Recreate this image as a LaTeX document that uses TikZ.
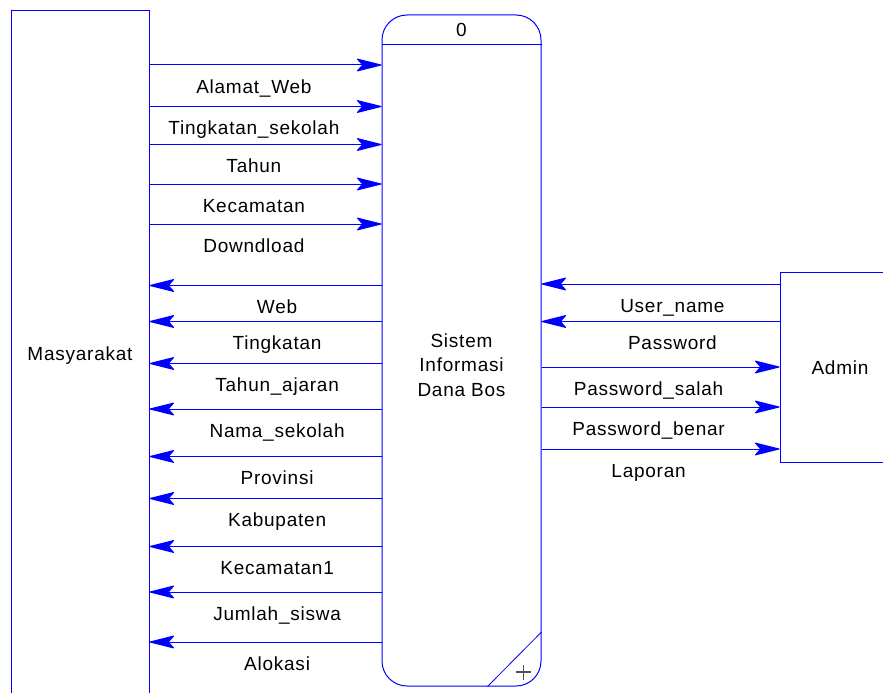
\documentclass[tikz,border=0pt]{standalone}
\usepackage{fontspec}
\setmainfont{Liberation Sans}[LetterSpace=4]
\usetikzlibrary{arrows.meta}

\definecolor{dfdblue}{RGB}{0,0,255}
\definecolor{plusgray}{RGB}{80,80,80}

\begin{document}
\begin{tikzpicture}[x=1pt,y=-1pt,
  ent/.style={draw=dfdblue,line width=1pt,rectangle,inner sep=0pt,font=\fontsize{19}{22}\selectfont},
  proc/.style={draw=dfdblue,line width=1pt,rectangle,rounded corners=25pt,inner sep=0pt},
  flow/.style={draw=dfdblue,line width=1pt,-{Stealth[length=27pt,width=13.5pt,inset=6pt,round]}},
  lbl/.style={anchor=base,pos=0.45,yshift=-28pt,inner sep=0pt,font=\fontsize{19}{22}\selectfont}]
\useasboundingbox (0,0) rectangle (883,693);
\clip (0,0) rectangle (883,693);

\node[ent,minimum width=138pt,minimum height=689pt] (masy) at (80,355.5) {Masyarakat};
\node[ent,minimum width=120pt,minimum height=190pt] (admin) at (840,367.5) {Admin};
\node[proc,minimum width=159pt,minimum height=671pt] (proc) at (461.5,350.5) {};
\node[font=\fontsize{19}{22}\selectfont] (pid) at (461.5,30) {0};
\node[align=center,font=\fontsize{19}{24.5}\selectfont] (pname) at (461.5,365) {Sistem\\Informasi\\Dana Bos};

\draw[dfdblue,line width=1pt] (proc.west |- 0,45) -- (proc.east |- 0,45);
\draw[dfdblue,line width=0.8pt] (proc.east |- 0,632) -- (487.5,0 |- proc.south);
\draw[plusgray,line width=1.3pt] (516,672) -- (531,672) (523.5,664.5) -- (523.5,679.5);

\foreach \y/\t [count=\i] in {65/Alamat\_Web,106.5/Tingkatan\_sekolah,144.5/Tahun,184/Kecamatan,224/Downdload}
  \draw[flow] (masy.east |- 0,\y) -- (proc.west |- 0,\y) node[lbl] (in\i) {\t};

\foreach \y/\t [count=\i] in {285.5/Web,321.5/Tingkatan,363.5/Tahun\_ajaran,409/Nama\_sekolah,456.5/Provinsi,498.5/Kabupaten,546.5/Kecamatan1,592/Jumlah\_siswa,642/Alokasi}
  \draw[flow] (proc.west |- 0,\y) -- (masy.east |- 0,\y) node[lbl] (out\i) {\t};

\draw[flow] (admin.west |- 0,284) -- (proc.east |- 0,284) node[lbl] (user) {User\_name};
\draw[flow] (admin.west |- 0,321.5) -- (proc.east |- 0,321.5) node[lbl] (pass) {Password};
\draw[flow] (proc.east |- 0,367) -- (admin.west |- 0,367) node[lbl] (salah) {Password\_salah};
\draw[flow] (proc.east |- 0,407) -- (admin.west |- 0,407) node[lbl] (benar) {Password\_benar};
\draw[flow] (proc.east |- 0,449) -- (admin.west |- 0,449) node[lbl] (lap) {Laporan};
\end{tikzpicture}
\end{document}
